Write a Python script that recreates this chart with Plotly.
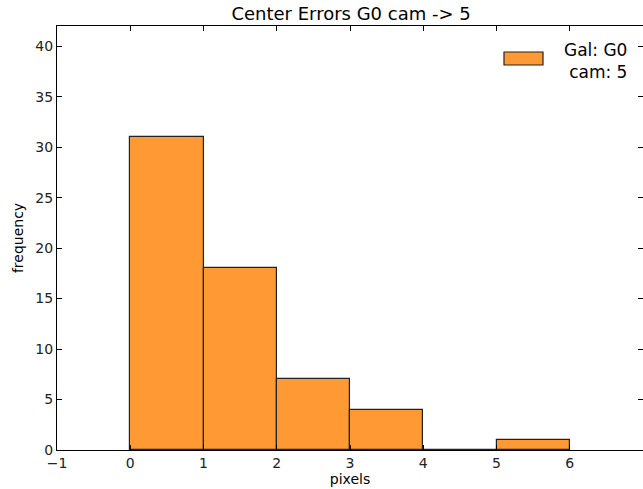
import plotly.graph_objects as go

# Histogram of centre errors (pixels), unit-width bins
bin_edges = [0, 1, 2, 3, 4, 5, 6]
counts = [31, 18, 7, 4, 0, 1]
x_ticks = [-1, 0, 1, 2, 3, 4, 5, 6, 7]
x_tick_labels = ["\u22121", "0", "1", "2", "3", "4", "5", "6", "7"]
y_ticks = [0, 5, 10, 15, 20, 25, 30, 35, 40]

bar_color = "#ff9933"
edge_color = "#222222"
font_family = "DejaVu Sans"

centers = [(bin_edges[i] + bin_edges[i + 1]) / 2 for i in range(len(counts))]
widths = [bin_edges[i + 1] - bin_edges[i] for i in range(len(counts))]

fig = go.Figure()
fig.add_trace(go.Bar(
    x=centers, y=counts, width=widths,
    marker=dict(color=bar_color, line=dict(color=edge_color, width=1.2)),
    showlegend=False,
))

W, H = 643, 489
ml, mr, mt, mb = 57, 0, 26, 39

axis_common = dict(
    showgrid=False, zeroline=False, showline=True, linecolor="#000000", linewidth=1.3,
    mirror="allticks", ticks="inside", ticklen=5, tickwidth=1, tickcolor="#000000",
    tickfont=dict(family=font_family, size=14, color="#222222"),
)

fig.update_layout(
    width=W, height=H,
    margin=dict(l=ml, r=mr, t=mt, b=mb, pad=0),
    paper_bgcolor="white", plot_bgcolor="white",
    bargap=0,
    title=dict(text="Center Errors G0 cam -> 5", x=0.546, xanchor="center",
               y=1 - 14 / H, yanchor="middle",
               font=dict(family=font_family, size=18, color="#000000")),
    xaxis=dict(range=[-1, 7], tickvals=x_ticks, ticktext=x_tick_labels,
               title=dict(text="pixels", standoff=2,
                          font=dict(family=font_family, size=14, color="#000000")),
               **axis_common),
    yaxis=dict(range=[0, 42], tickvals=y_ticks,
               title=dict(text="frequency", standoff=8,
                          font=dict(family=font_family, size=14, color="#000000")),
               **axis_common),
)

# Legend box drawn in pixel-derived paper coordinates
def px_x(px):
    return (px - ml) / (W - ml - mr)

def px_y(py):
    return 1 - (py - mt) / (H - mt - mb)

fig.add_shape(type="rect", xref="paper", yref="paper",
              x0=px_x(504), x1=px_x(543), y0=px_y(65), y1=px_y(52),
              fillcolor=bar_color, line=dict(color=edge_color, width=1.2))
fig.add_annotation(xref="paper", yref="paper", x=px_x(629), y=px_y(61),
                   xanchor="right", yanchor="middle", align="right", showarrow=False,
                   text="Gal: G0<br>cam: 5",
                   font=dict(family=font_family, size=17, color="#000000"))

fig.write_html("out.html")
